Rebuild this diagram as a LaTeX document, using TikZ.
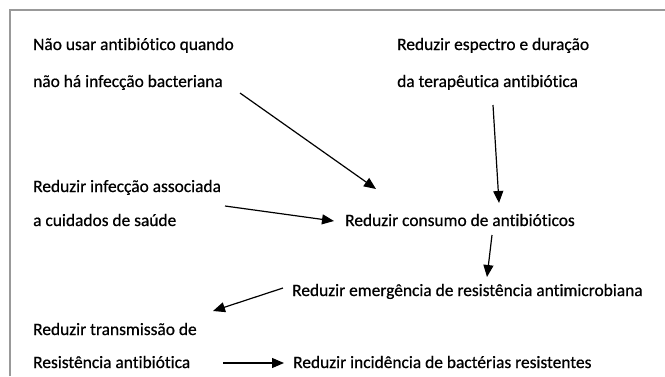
\documentclass[tikz,border=0pt]{standalone}
\usepackage{fontspec}
\setmainfont{Carlito}[Ligatures=NoCommon,FakeBold=0.6]
\usetikzlibrary{arrows.meta}
\begin{document}
\begin{tikzpicture}[x=1pt,y=-1pt,
  lbl/.style={anchor=base west,inner sep=0pt,font=\fontsize{17.4}{20}\selectfont},
  arr/.style={-{Triangle[length=12pt,width=10pt]},line width=1.2pt}]
\useasboundingbox (0,0) rectangle (665,376);
\draw[gray!80, line width=1.5pt] (10,376) -- (10,10) -- (665,10);
\node[lbl] (a1) at (33,50) {Não usar antibiótico quando};
\node[lbl] (a2) at (33,87) {não há infecção bacteriana};
\node[lbl] (b1) at (397,50) {Reduzir espectro e duração};
\node[lbl] (b2) at (397,87) {da terapêutica antibiótica};
\node[lbl] (c1) at (33,192) {Reduzir infecção associada};
\node[lbl] (c2) at (33,226) {a cuidados de saúde};
\node[lbl] (d) at (345,226) {Reduzir consumo de antibióticos};
\node[lbl] (e) at (292,296) {Reduzir emergência de resistência antimicrobiana};
\node[lbl] (f1) at (33,335) {Reduzir transmissão de};
\node[lbl] (f2) at (33,368) {Resistência antibiótica};
\node[lbl] (g) at (293,368) {Reduzir incidência de bactérias resistentes};
\draw[arr] ([shift={(207,6)}]a2.base west) -- ([shift={(31,-37)}]d.base west);
\draw[arr] ([shift={(96,18)}]b2.base west) -- ([shift={(154,-23)}]d.base west);
\draw[arr] ([shift={(192,-20)}]c2.base west) -- ([shift={(-11,-5)}]d.base west);
\draw[arr] ([shift={(147,9)}]d.base west) -- ([shift={(195,-19)}]e.base west);
\draw[arr] ([shift={(-9,-8)}]e.base west) -- ([shift={(180,-24)}]f1.base west);
\draw[arr] ([shift={(190,-5)}]f2.base west) -- ([shift={(-9,-5)}]g.base west);
\end{tikzpicture}
\end{document}
